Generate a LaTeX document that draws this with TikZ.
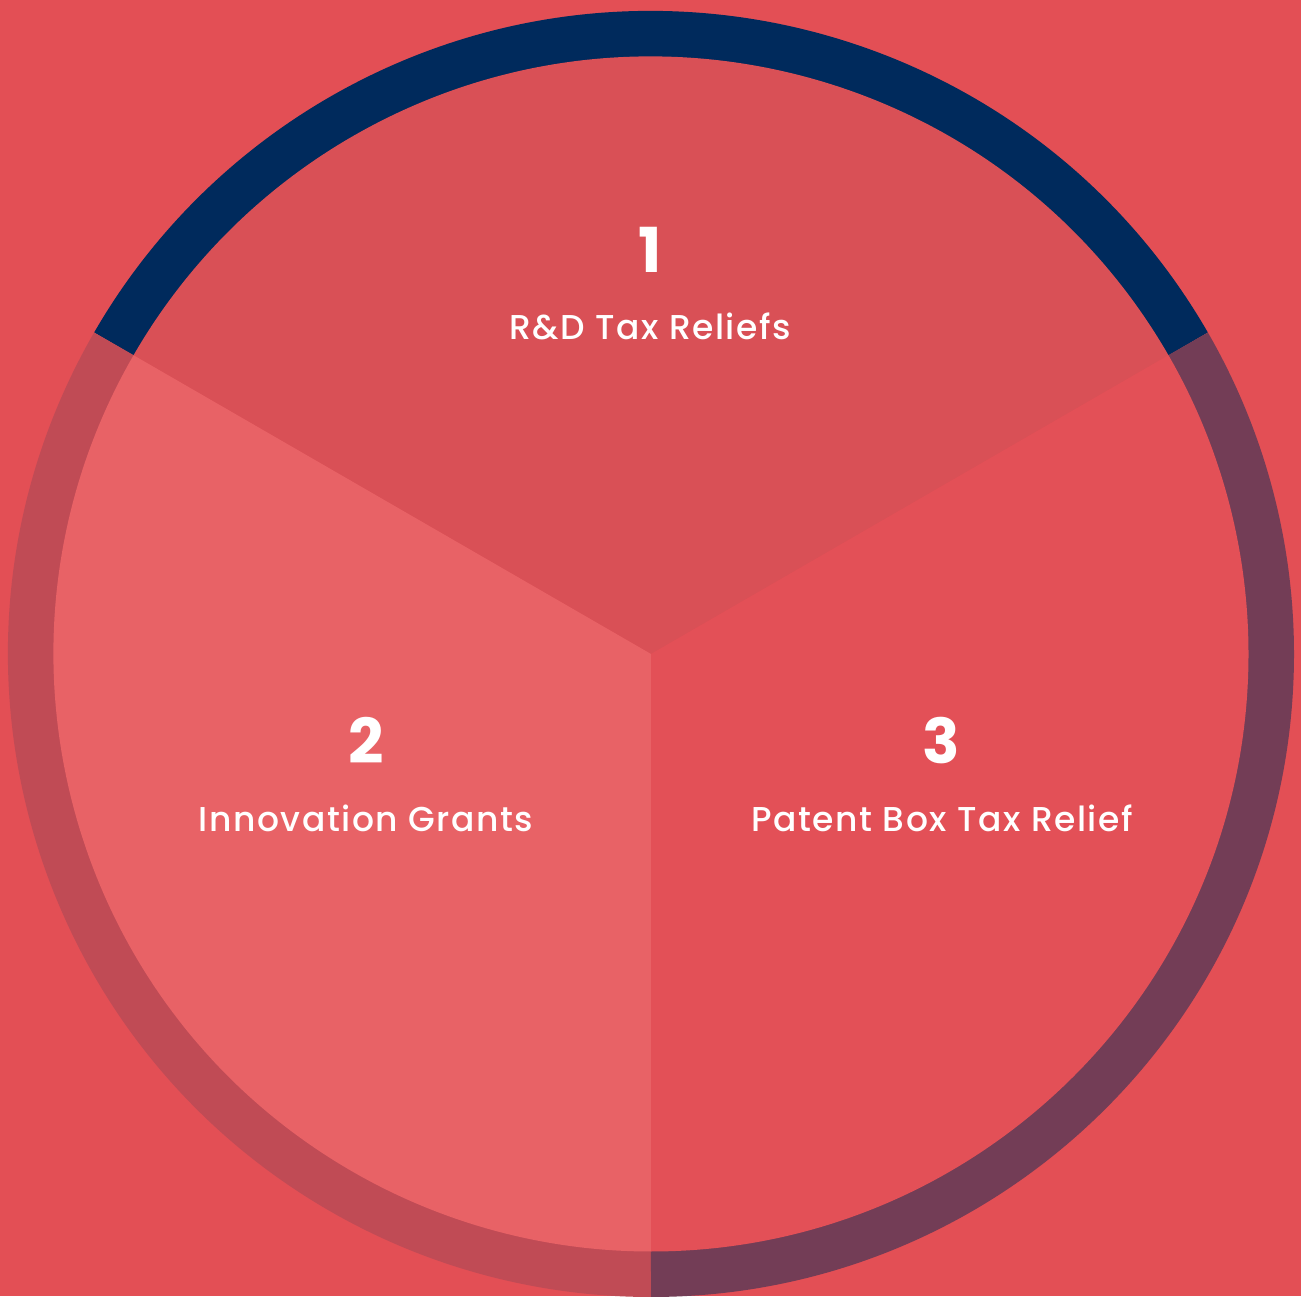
\documentclass[tikz,border=0pt]{standalone}
\usepackage{fontspec}
\setmainfont{Poppins}
\newfontfamily\labelfont{Poppins Medium}[LetterSpace=4.5]
\definecolor{bg}{HTML}{E34F55}
\definecolor{secA}{HTML}{D95056}
\definecolor{secB}{HTML}{E86266}
\definecolor{secC}{HTML}{E35057}
\definecolor{ringA}{HTML}{002A5C}
\definecolor{ringB}{HTML}{C04B55}
\definecolor{ringC}{HTML}{733D56}
\tikzset{
  ringarc/.style={line width=46pt},
  numlabel/.style={anchor=base, text=white, font=\fontsize{62}{62}\selectfont\bfseries, inner sep=0pt},
  namelabel/.style={anchor=base, text=white, font=\labelfont\fontsize{34.5}{34.5}\selectfont, inner sep=0pt}
}
\begin{document}
\begin{tikzpicture}
\fill[bg] (0pt,0pt) rectangle (1301pt,1296pt);
\useasboundingbox (0pt,0pt) rectangle (1301pt,1296pt);
\coordinate (C) at (651pt,642pt);
% outer ring
\draw[ringarc, ringA] (C) ++(30:620pt) arc[start angle=30, end angle=150, radius=620pt];
\draw[ringarc, ringB] (C) ++(150:620pt) arc[start angle=150, end angle=270, radius=620pt];
\draw[ringarc, ringC] (C) ++(270:620pt) arc[start angle=270, end angle=390, radius=620pt];
% sectors
\fill[secA] (C) -- ++(30:597.5pt) arc[start angle=30, end angle=150, radius=597.5pt] -- cycle;
\fill[secB] (C) -- ++(150:597.5pt) arc[start angle=150, end angle=270, radius=597.5pt] -- cycle;
\fill[secC] (C) -- ++(270:597.5pt) arc[start angle=270, end angle=390, radius=597.5pt] -- cycle;
% labels
\node[numlabel] (n1) at (650pt,1023pt) {1};
\node[namelabel] (t1) at (650pt,956pt) {R\&D Tax Reliefs};
\node[numlabel] (n2) at (366pt,532pt) {2};
\node[namelabel] (t2) at (366pt,464pt) {Innovation Grants};
\node[numlabel] (n3) at (941pt,532pt) {3};
\node[namelabel] (t3) at (942pt,464pt) {Patent Box Tax Relief};
\end{tikzpicture}
\end{document}
